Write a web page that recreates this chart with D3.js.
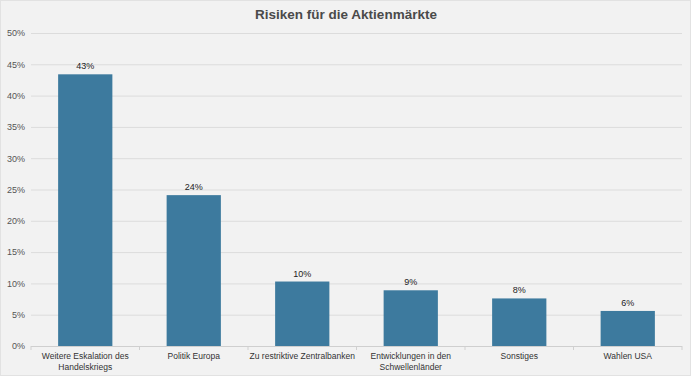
<!DOCTYPE html>
<html>
<head>
<meta charset="utf-8">
<script src="https://cdn.jsdelivr.net/npm/d3@7"></script>
<style>
  body { margin: 0; background: #fff; }
  svg { display: block; font-family: "Liberation Sans", Arial, sans-serif; }
</style>
</head>
<body>
<svg></svg>
<script>
const TITLE = "Risiken für die Aktienmärkte",
  categories = [
    ["Weitere Eskalation des", "Handelskriegs"],
    ["Politik Europa"],
    ["Zu restriktive Zentralbanken"],
    ["Entwicklungen in den", "Schwellenländer"],
    ["Sonstiges"],
    ["Wahlen USA"]
  ],
  values = [43.4, 24.1, 10.3, 8.9, 7.6, 5.6],
  yTicks = [0, 5, 10, 15, 20, 25, 30, 35, 40, 45, 50],
  W = 692,
  H = 378,
  margin = { top: 33, right: 10, bottom: 32, left: 31 },
  width = W - margin.left - margin.right,
  height = H - margin.top - margin.bottom;

var svg = d3.select("svg").attr("width", W).attr("height", H);

// background panel
svg.append("rect")
  .attr("x", 0.5).attr("y", 0.5)
  .attr("width", W - 2).attr("height", H - 3)
  .attr("fill", "#f2f2f2")
  .attr("stroke", "#e2e2e2");

var chart = svg.append("g")
  .attr("transform", "translate(" + margin.left + "," + margin.top + ")");

var xb = d3.scaleBand().domain(d3.range(values.length)).range([0, width]);
var y = d3.scaleLinear().domain([0, 50]).range([height, 0]);

// grid + y labels
var yAxis = d3.axisLeft(y).tickValues(yTicks).tickSize(-width)
  .tickFormat(d => d + "%").tickPadding(6);
chart.append("g").attr("class", "y axis").call(yAxis)
  .call(g => g.select(".domain").remove())
  .call(g => g.selectAll(".tick line").attr("stroke", "#dcdcdc"))
  .call(g => g.selectAll(".tick text")
    .attr("fill", "#555").attr("font-size", "9px"));

// x axis ticks at band boundaries
var bounds = d3.range(values.length + 1);
chart.append("g").selectAll("line").data(bounds).enter().append("line")
  .attr("x1", d => d * xb.step()).attr("x2", d => d * xb.step())
  .attr("y1", height).attr("y2", height + 4)
  .attr("stroke", "#d0d0d0");
chart.append("line")
  .attr("x1", 0).attr("x2", width)
  .attr("y1", height + 0.5).attr("y2", height + 0.5)
  .attr("stroke", "#cfcfcf");

// bars
chart.selectAll("rect.bar").data(values).enter().append("rect")
  .attr("class", "bar")
  .attr("x", (d, i) => xb(i) + xb.bandwidth() / 4)
  .attr("width", xb.bandwidth() / 2)
  .attr("y", d => y(d))
  .attr("height", d => height - y(d))
  .attr("fill", "#3d7a9e");

// value labels
chart.selectAll("text.val").data(values).enter().append("text")
  .attr("class", "val")
  .attr("x", (d, i) => xb(i) + xb.bandwidth() / 2)
  .attr("y", d => y(d) - 5)
  .attr("text-anchor", "middle")
  .attr("font-size", "9px")
  .attr("fill", "#222")
  .text(d => Math.round(d) + "%");

// category labels
var cat = chart.selectAll("text.cat").data(categories).enter().append("text")
  .attr("class", "cat")
  .attr("x", (d, i) => xb(i) + xb.bandwidth() / 2)
  .attr("y", height + 13)
  .attr("text-anchor", "middle")
  .attr("font-size", "8.5px")
  .attr("fill", "#333");
cat.selectAll("tspan").data(d => d).enter().append("tspan")
  .attr("x", function () { return d3.select(this.parentNode).attr("x"); })
  .attr("dy", (d, i) => i ? "1.3em" : 0)
  .text(d => d);

// title
svg.append("text")
  .attr("x", W / 2)
  .attr("y", 19)
  .attr("text-anchor", "middle")
  .attr("font-size", "13.5px")
  .attr("font-weight", "bold")
  .attr("fill", "#4a4a4a")
  .text(TITLE);
</script>
</body>
</html>
